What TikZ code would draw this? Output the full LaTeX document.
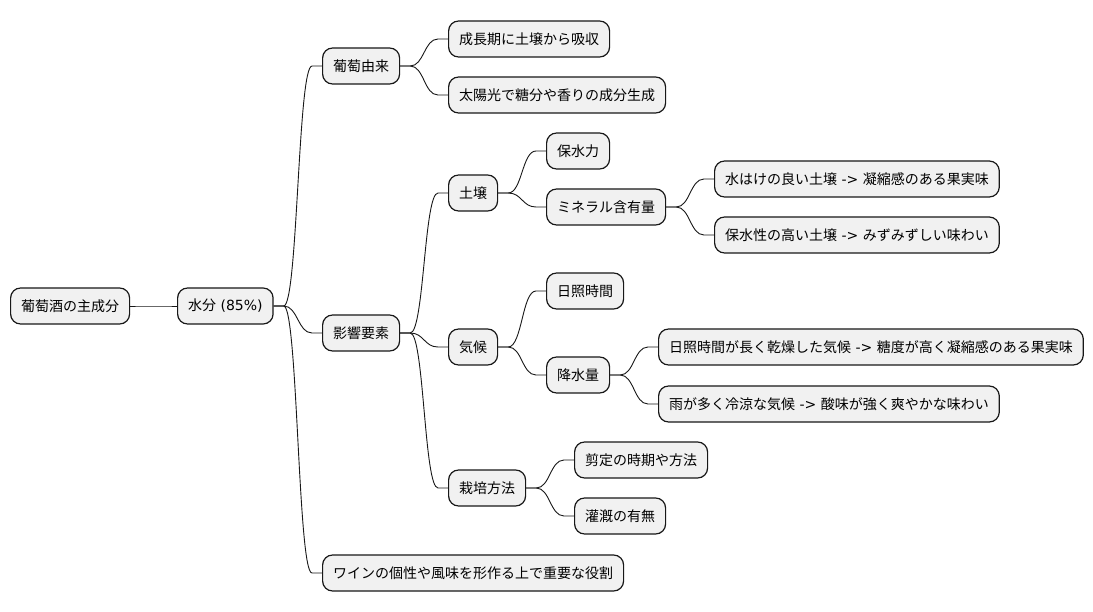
\documentclass[tikz,border=0pt]{standalone}
\usepackage{fontspec}
\setmainfont{Noto Sans CJK JP}
\newfontfamily\lat{DejaVu Sans}
\usetikzlibrary{calc}
\definecolor{boxfill}{HTML}{F1F1F1}
\definecolor{boxline}{HTML}{181818}
\tikzset{
  box/.style={draw=boxline, line width=1.2pt, fill=boxfill, rounded corners=10pt,
    minimum height=36pt, inner xsep=10.5pt, inner ysep=2pt, anchor=west,
    font=\fontsize{14pt}{16pt}\selectfont},
  conn/.style={draw=boxline, line width=0.9pt}
}
\newcommand\arr{{\lat\ ->\ }}
\newcommand\mmedge[2]{%
  \coordinate (ea) at ($(#1.east)+(10pt,0)$);
  \coordinate (eb) at ($(#2.west)+(-10pt,0)$);
  \draw[conn] (#1.east) -- (ea) .. controls ($(ea)!0.5!(eb|-ea)$) and ($(eb)!0.5!(ea|-eb)$) .. (eb) -- (#2.west);}
\begin{document}
\begin{tikzpicture}[x=1pt,y=-1pt]
\useasboundingbox[fill=white] (0,0) rectangle (1093,612);
\node[box] (root) at (10,306) {葡萄酒の主成分};
\node[box] (water) at (177,306) {水分{\lat\ (85\%)}};
\node[box] (budou) at (322,66) {葡萄由来};
\node[box] (seichou) at (448,39) {成長期に土壌から吸収};
\node[box] (taiyou) at (448,95) {太陽光で糖分や香りの成分生成};
\node[box] (eikyou) at (322,333) {影響要素};
\node[box] (dojou) at (448,193) {土壌};
\node[box] (hosui) at (546,151) {保水力};
\node[box] (mineral) at (546,207) {ミネラル含有量};
\node[box] (mizuhake) at (714,179) {水はけの良い土壌\arr 凝縮感のある果実味};
\node[box] (hosuisei) at (714,235) {保水性の高い土壌\arr みずみずしい味わい};
\node[box] (kikou) at (448,347) {気候};
\node[box] (nisshou) at (546,291) {日照時間};
\node[box] (kousui) at (546,375) {降水量};
\node[box] (nisshouL) at (658,347) {日照時間が長く乾燥した気候\arr 糖度が高く凝縮感のある果実味};
\node[box] (ame) at (658,404) {雨が多く冷涼な気候\arr 酸味が強く爽やかな味わい};
\node[box] (saibai) at (448,488) {栽培方法};
\node[box] (sentei) at (574,460) {剪定の時期や方法};
\node[box] (kangai) at (574,516) {灌漑の有無};
\node[box] (wine) at (322,573) {ワインの個性や風味を形作る上で重要な役割};
\mmedge{root}{water}
\mmedge{water}{budou}
\mmedge{water}{eikyou}
\mmedge{water}{wine}
\mmedge{budou}{seichou}
\mmedge{budou}{taiyou}
\mmedge{eikyou}{dojou}
\mmedge{eikyou}{kikou}
\mmedge{eikyou}{saibai}
\mmedge{dojou}{hosui}
\mmedge{dojou}{mineral}
\mmedge{mineral}{mizuhake}
\mmedge{mineral}{hosuisei}
\mmedge{kikou}{nisshou}
\mmedge{kikou}{kousui}
\mmedge{kousui}{nisshouL}
\mmedge{kousui}{ame}
\mmedge{saibai}{sentei}
\mmedge{saibai}{kangai}
\end{tikzpicture}
\end{document}
